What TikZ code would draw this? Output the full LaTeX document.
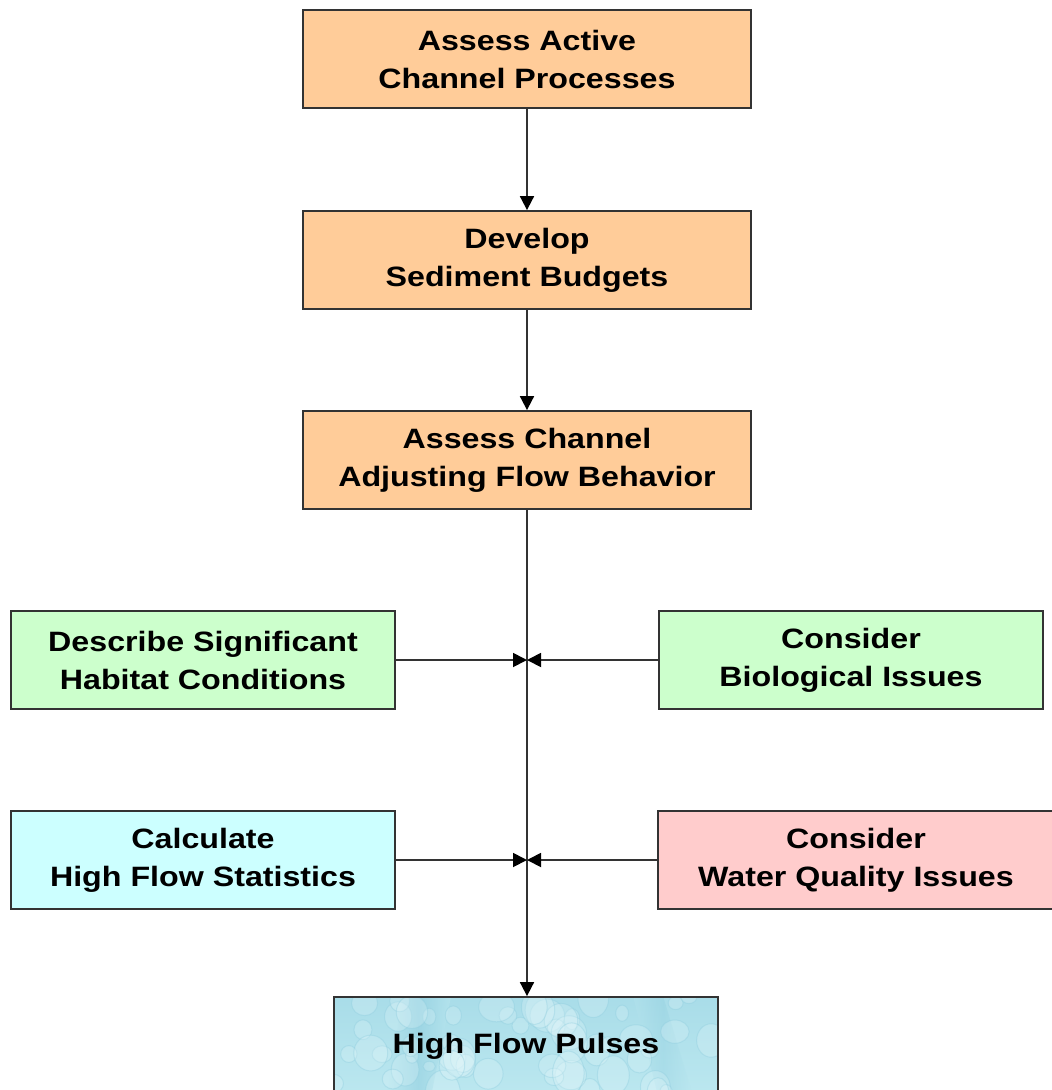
\documentclass[tikz,border=0pt]{standalone}
\usepackage{fontspec}
\setmainfont{Liberation Sans}[FakeStretch=1.15]
\usetikzlibrary{arrows.meta,backgrounds}

\definecolor{boxorange}{HTML}{FFCC99}
\definecolor{boxgreen}{HTML}{CCFFCC}
\definecolor{boxcyan}{HTML}{CCFFFF}
\definecolor{boxpink}{HTML}{FFCCCC}
\definecolor{edgegray}{HTML}{333333}
\definecolor{waterbase}{RGB}{188,232,240}
\definecolor{waterdeep}{RGB}{140,204,222}
\definecolor{waterlight}{RGB}{230,248,251}

\tikzset{
  box/.style={draw=edgegray, line width=1.8pt, minimum height=98pt,
    align=center, inner sep=0pt,
    font=\fontsize{28}{38}\selectfont\bfseries},
  wide/.style={box, minimum width=448pt},
  side/.style={box, minimum width=384pt},
  link/.style={draw=edgegray, line width=1.8pt,
    -{Triangle[length=14pt,width=14pt,color=black,fill=black]}},
  drop/.style={draw=waterdeep, line width=1pt, draw opacity=0.35,
    fill=waterlight, fill opacity=0.25},
}

\begin{document}
\begin{tikzpicture}[x=1pt,y=-1pt]
  \useasboundingbox (0,0) rectangle (1052,1090);

  % main chain of assessment steps
  \node[wide, fill=boxorange] (proc) at (527,59)  {Assess Active\\Channel Processes};
  \node[wide, fill=boxorange] (budg) at (527,260) {Develop\\Sediment Budgets};
  \node[wide, fill=boxorange] (adj)  at (527,460) {Assess Channel\\Adjusting Flow Behavior};

  % side inputs
  \node[side, fill=boxgreen] (hab)  at (203,660) {Describe Significant\\Habitat Conditions};
  \node[side, fill=boxgreen] (bio)  at (851,660) {Consider\\Biological Issues};
  \node[side, fill=boxcyan]  (stat) at (203,860) {Calculate\\High Flow Statistics};
  \node[box, minimum width=396pt, fill=boxpink] (wq) at (856,860) {Consider\\Water Quality Issues};

  % outcome
  \node[side] (pulse) at (526,1046) {High Flow Pulses};

  % water texture behind the outcome box
  \begin{scope}[on background layer]
    \fill[white] (0,0) rectangle (1052,1090);
    \clip (pulse.north west) rectangle (pulse.south east);
    \fill[waterbase] (pulse.north west) rectangle (pulse.south east);
    \begin{scope}[shift={(pulse.north west)}]
      \shade[top color=waterdeep, bottom color=waterbase, opacity=0.4]
        (0,0) rectangle (384,100);
      \shade[left color=waterbase, right color=waterbase, middle color=waterdeep, opacity=0.5]
        (70,0) -- (118,0) -- (98,100) -- (52,100) -- cycle;
      \shade[left color=waterbase, right color=waterbase, middle color=waterdeep, opacity=0.3]
        (300,0) -- (330,0) -- (360,100) -- (325,100) -- cycle;
      \pgfmathsetseed{11}
      \foreach \k in {1,...,55}{
        \pgfmathsetmacro\px{rnd*390}
        \pgfmathsetmacro\py{rnd*100}
        \pgfmathsetmacro\rx{6+rnd*12}
        \pgfmathsetmacro\ry{\rx*(0.8+rnd*0.6)}
        \draw[drop] (\px,\py) ellipse ({\rx pt} and {\ry pt});
      }
    \end{scope}
  \end{scope}

  % junctions on the trunk line
  \coordinate (j1) at (adj.south |- hab.east);
  \coordinate (j2) at (adj.south |- stat.east);

  \draw[link] (proc.south) -- (budg.north);
  \draw[link] (budg.south) -- (adj.north);
  \draw[link] (adj.south) -- (adj.south |- pulse.north);
  \draw[link] (hab.east) -- (j1);
  \draw[link] (bio.west) -- (j1);
  \draw[link] (stat.east) -- (j2);
  \draw[link] (wq.west) -- (j2);
\end{tikzpicture}
\end{document}
